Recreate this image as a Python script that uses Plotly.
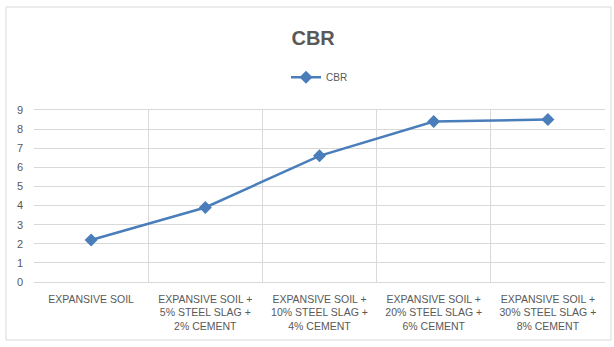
import plotly.graph_objects as go

categories = [
    "EXPANSIVE SOIL",
    "EXPANSIVE SOIL +<br>5% STEEL SLAG +<br>2% CEMENT",
    "EXPANSIVE SOIL +<br>10% STEEL SLAG +<br>4% CEMENT",
    "EXPANSIVE SOIL +<br>20% STEEL SLAG +<br>6% CEMENT",
    "EXPANSIVE SOIL +<br>30% STEEL SLAG +<br>8% CEMENT",
]
cbr_values = [2.2, 3.9, 6.6, 8.4, 8.5]
y_ticks = list(range(0, 10))

FONT = "Liberation Sans, Arial, sans-serif"
LINE_COLOR = "#4a7ebb"
GRID = "#d9d9d9"
TEXT = "#595959"

fig = go.Figure()
fig.add_trace(go.Scatter(
    x=categories,
    y=cbr_values,
    mode="lines+markers",
    name="CBR",
    line=dict(color=LINE_COLOR, width=2.5),
    marker=dict(symbol="diamond", size=10, color=LINE_COLOR),
))

fig.update_layout(
    width=614,
    height=347,
    margin=dict(l=34, r=9, t=110, b=65),
    paper_bgcolor="white",
    plot_bgcolor="white",
    font=dict(family=FONT, color=TEXT, size=11),
    title=dict(
        text="<b>CBR</b>",
        x=0.51, xanchor="center",
        y=1 - 38 / 347, yanchor="middle",
        font=dict(family=FONT, size=20, color=TEXT),
    ),
    showlegend=True,
    legend=dict(
        orientation="h",
        x=0.5, xanchor="center",
        y=1.19, yanchor="middle",
        font=dict(family=FONT, size=10, color=TEXT),
        bgcolor="rgba(0,0,0,0)",
    ),
    xaxis=dict(
        type="category",
        range=[-0.5, 4.5],
        tickson="boundaries",
        showgrid=True,
        gridcolor=GRID,
        gridwidth=1,
        ticks="",
        showline=True,
        linecolor=GRID,
        mirror=True,
        ticklabelstandoff=7,
        tickfont=dict(family=FONT, size=10.5, color=TEXT),
    ),
    yaxis=dict(
        range=[0, 9],
        tickvals=y_ticks,
        showgrid=True,
        gridcolor=GRID,
        gridwidth=1,
        zeroline=False,
        showline=False,
        ticks="",
        ticklabelstandoff=10,
        tickfont=dict(family=FONT, size=11, color=TEXT),
    ),
    shapes=[
        dict(
            type="rect", xref="paper", yref="paper",
            x0=(6 - 34) / 571, x1=(611 - 34) / 571,
            y0=(282 - 340) / 172, y1=(282 - 7) / 172,
            line=dict(color="#d9d9d9", width=1),
            fillcolor="rgba(0,0,0,0)",
            layer="below",
        )
    ],
)

fig.write_html("out.html")
